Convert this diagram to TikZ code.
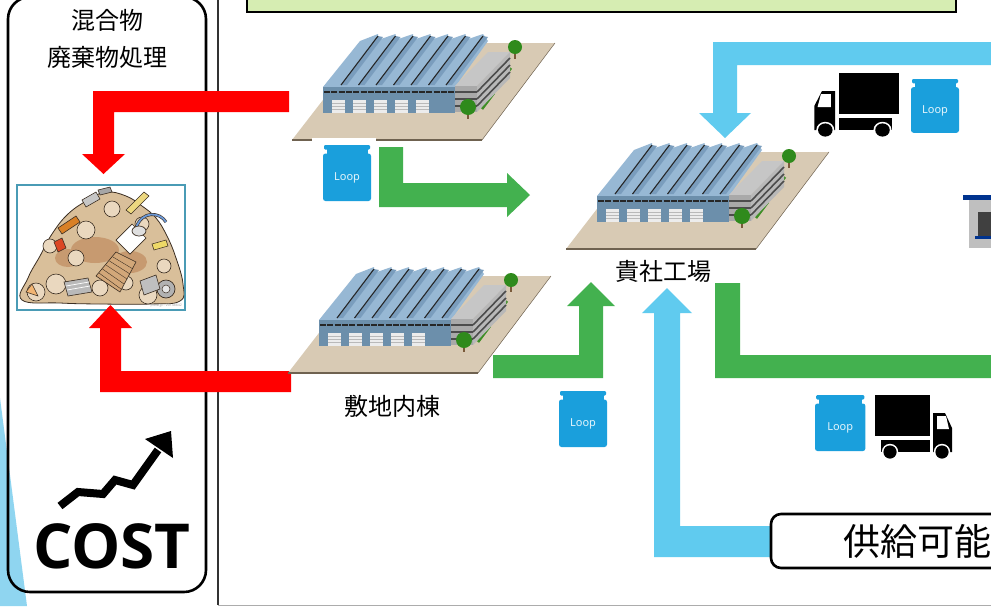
\documentclass[tikz,border=0pt]{standalone}
\usepackage{fontspec}
\newfontfamily\jpfont{Noto Sans CJK JP}
\newfontfamily\costfont{Open Sans}
\newfontfamily\loopfont{Noto Sans}

\definecolor{arrowred}{HTML}{FF0000}
\definecolor{arrowgreen}{HTML}{43B14F}
\definecolor{arrowblue}{HTML}{60CBEF}
\definecolor{loopblue}{HTML}{1A9FDC}
\definecolor{platetan}{HTML}{D8CAB4}
\definecolor{plateedge}{HTML}{6F6250}
\definecolor{wallblue}{HTML}{6C8FAB}
\definecolor{roofblue}{HTML}{97B8D4}
\definecolor{roofdark}{HTML}{7A9DBD}
\definecolor{doorwhite}{HTML}{ECECEC}
\definecolor{officetop}{HTML}{C6C6C6}
\definecolor{officefront}{HTML}{A9A9A9}
\definecolor{officeside}{HTML}{B8B8B8}
\definecolor{treegreen}{HTML}{2F8A1C}
\definecolor{lawngreen}{HTML}{3E8E25}
\definecolor{trunkbrown}{HTML}{7A5A3A}
\definecolor{topbox}{HTML}{D6EDB2}
\definecolor{skyedge}{HTML}{8FD5F0}
\definecolor{photoframe}{HTML}{4A9BB5}
\definecolor{pile}{HTML}{D9BF9A}
\definecolor{piledark}{HTML}{C79A70}
\definecolor{pilelight}{HTML}{EAD8BF}
\definecolor{ink}{HTML}{3B2E22}

\tikzset{
  jplabel/.style={font=\jpfont\fontsize{24}{28}\selectfont, inner sep=0pt},
  looplabel/.style={font=\loopfont\bfseries\fontsize{11}{12}\selectfont, text=white!88!loopblue, inner sep=0pt},
  factory/.pic={
    % ground plate
    \fill[platetan] (0,0) -- (190,0) -- (263,-97) -- (75,-97) -- cycle;
    \draw[plateedge, line width=2pt] (0,0) -- (190,0);
    \draw[plateedge, line width=0.5pt] (190,0) -- (263,-97);
    % lawn strips
    \draw[lawngreen, line width=2.6pt] (190,-31) -- (202,-47);
    \draw[lawngreen, line width=2.6pt] (207,-56) -- (219,-72);
    % saw-tooth roof
    \fill[roofblue] (31,-53) -- (68,-99) -- (86,-106) -- (86,-100) -- (103.5,-106) -- (103.5,-100)
      -- (121,-106) -- (121,-100) -- (138.5,-106) -- (138.5,-100) -- (156,-106) -- (156,-100)
      -- (173.5,-106) -- (173.5,-100) -- (191,-106) -- (196,-99) -- (163,-53) -- cycle;
    \foreach \i in {0,...,6}{
      \fill[roofdark] ({49+17.5*\i},-55) -- ({86+17.5*\i},-104) -- ({91+17.5*\i},-103) -- ({55+17.5*\i},-55) -- cycle;
      \draw[black!85, line width=1.1pt] ({49+17.5*\i},-55) -- ({86+17.5*\i},-104);
    }
    % front wall
    \fill[wallblue] (31,-53) rectangle (163,-27);
    \draw[black!85, line width=2.2pt, dash pattern=on 6pt off 1.3pt] (32,-48) -- (162,-48);
    \foreach \x in {40,61,82,102.5,124}{
      \fill[doorwhite] (\x,-40) rectangle ++(13,12.5);
      \foreach \s in {-37,-34,-31}{\draw[gray!55, line width=0.4pt] (\x,\s) -- ++(13,0);}
    }
    % office block
    \fill[officetop] (163,-54) -- (196,-88) -- (218,-88) -- (185,-54) -- cycle;
    \fill[officefront] (163,-54) rectangle (185,-28);
    \fill[officeside] (185,-54) -- (218,-88) -- (218,-62) -- (185,-28) -- cycle;
    \foreach \s in {-48,-41,-34}{
      \draw[black!70, line width=1.6pt] (163,\s) -- (185,\s);
      \draw[black!70, line width=1.6pt] (185,\s) -- (218,{\s-34});
    }
    % trees
    \draw[trunkbrown, line width=1.2pt] (223,-92) -- (223,-81);
    \fill[treegreen] (223,-93) circle (7);
    \draw[trunkbrown, line width=1.2pt] (176,-32) -- (176,-21);
    \fill[treegreen] (176,-33) circle (8);
  },
  loopbag/.pic={
    \fill[loopblue, rounded corners=1.2pt] (1,0) rectangle (47,4.5);
    \fill[loopblue] (3.5,4) rectangle (44.5,9);
    \fill[loopblue, rounded corners=2.5pt] (0,8.5) rectangle (48,56);
    \node[looplabel] (-label) at (24,33) {Loop};
  },
  truck/.pic={
    \fill[black] (0,0) rectangle (55,41);
    \fill[black] (6,45) rectangle (55,57);
    \fill[black] (58,18) -- (70,18) -- (77,33) -- (77,57) -- (58,57) -- cycle;
    \fill[white] (62,21) -- (71,21) -- (74,34) -- (62,34) -- cycle;
    \foreach \cx in {15,67}{
      \fill[white] (\cx,57) circle (8.2);
      \fill[black] (\cx,57) circle (6.6);
    }
  }
}

\begin{document}
\begin{tikzpicture}[x=1pt,y=-1pt]
\useasboundingbox (0,0) rectangle (991,606);
\clip (0,0) rectangle (991,606);
\fill[white] (0,0) rectangle (991,606);

% sky-blue wedge at the left edge
\fill[skyedge] (0,398) -- (27,606) -- (0,606) -- cycle;

% left panel
\draw[black, line width=2.6pt, rounded corners=22pt] (8,-3) rectangle (206,592);
\node[jplabel] (mixlabel) at (107,20) {混合物};
\node[jplabel] (wastelabel) at (107,57) {廃棄物処理};

% main frame
\draw[black!80, line width=1.2pt] (218,-2) -- (218,605);
\draw[gray!65, line width=1pt] (218,605) -- (995,605);

% title box at the top
\draw[black, line width=2.6pt, fill=topbox] (247,-10) rectangle (956,12);

% waste pile picture
\draw[photoframe, line width=1.2pt, fill=white] (17,185) rectangle (185,310);
\begin{scope}
\clip (18,186) rectangle (184,309);
\filldraw[fill=pile, draw=ink, line width=0.8pt] plot[smooth cycle, tension=0.7] coordinates
  {(22,300) (28,278) (40,256) (52,234) (68,214) (88,200) (106,192) (126,196) (142,206)
   (156,218) (167,236) (176,258) (183,284) (180,301) (150,304) (100,304) (60,303)};
\fill[piledark] (95,250) ellipse (24 and 13);
\fill[piledark] (130,262) ellipse (17 and 11);
\fill[piledark] (68,258) ellipse (13 and 9);
\foreach \px/\py/\pr in {36/292/9, 56/284/10, 86/230/9, 112/209/8, 76/258/8, 148/295/9, 164/266/7, 50/246/7, 142/224/7, 100/288/8, 126/283/7}{
  \filldraw[fill=pilelight, draw=ink, line width=0.6pt] (\px,\py) circle (\pr);
}
% scraps
\filldraw[fill=gray!45, draw=ink, line width=0.6pt] (82,200) -- (96,192) -- (100,199) -- (86,207) -- cycle;
\filldraw[fill=gray!70, draw=ink, line width=0.6pt] (98,190) -- (110,187) -- (112,192) -- (100,195) -- cycle;
\filldraw[fill=brown!60!orange, draw=ink, line width=0.6pt] (58,228) -- (76,216) -- (80,222) -- (62,234) -- cycle;
\filldraw[fill=red!45!brown, draw=ink, line width=0.6pt] (54,242) -- (62,238) -- (66,248) -- (58,252) -- cycle;
\filldraw[fill=yellow!50!brown!60, draw=ink, line width=0.6pt] (126,210) -- (144,192) -- (149,196) -- (131,214) -- cycle;
\draw[ink, line width=3pt] (136,228) .. controls (142,210) and (160,212) .. (166,222);
\draw[cyan!50!blue!60, line width=1.8pt] (136,228) .. controls (142,210) and (160,212) .. (166,222);
\filldraw[fill=white, draw=ink, line width=0.7pt] (116,240) -- (132,224) -- (146,238) -- (130,254) -- cycle;
\filldraw[fill=gray!25, draw=ink, line width=0.7pt] (139,231) ellipse (7 and 5);
\filldraw[fill=brown!55!pilelight, draw=ink, line width=0.6pt] (96,276) -- (116,252) -- (136,262) -- (120,292) -- cycle;
\foreach \k in {0,...,4}{\draw[ink, line width=0.4pt] ({99+3.5*\k},{273-4*\k}) -- ({121+3*\k},{289-5*\k});}
\filldraw[fill=gray!55, draw=ink, line width=0.6pt] (64,282) -- (88,278) -- (92,292) -- (68,296) -- cycle;
\draw[white, line width=0.7pt] (66,286) -- (89,282) (67,290) -- (90,286);
\filldraw[fill=gray!60, draw=ink, line width=0.7pt] (166,289) circle (9);
\filldraw[fill=gray!20, draw=ink, line width=0.5pt] (166,289) circle (4);
\filldraw[fill=gray!50, draw=ink, line width=0.6pt] (140,281) -- (156,275) -- (160,289) -- (144,295) -- cycle;
\filldraw[fill=yellow!60!brown!70, draw=ink, line width=0.5pt] (152,244) -- (166,240) -- (168,246) -- (154,250) -- cycle;
\filldraw[fill=orange!40!pilelight, draw=ink, line width=0.5pt] (26,292) -- (32,284) -- (38,296) -- cycle;
\end{scope}
\node[font=\loopfont\fontsize{3.5}{4}\selectfont, text=gray!70, anchor=east, inner sep=0pt] (pixta) at (182,306) {pixta.jp - 20148842};

% red arrows into the waste pile
\fill[arrowred] (289,91) -- (93,91) -- (93,154) -- (82,154) -- (103.5,174) -- (125,154) -- (114,154) -- (114,112) -- (289,112) -- cycle;
\fill[arrowred] (291,392) -- (100,392) -- (100,328) -- (89,328) -- (110.5,305) -- (132,328) -- (121,328) -- (121,371) -- (291,371) -- cycle;

% rising cost arrow
\draw[black, line width=8pt, line join=miter] (60,506) -- (78,492) -- (103,494) -- (115,480) -- (133,485) -- (158,450);
\fill[black] (145,439) -- (171,431) -- (173,458) -- cycle;
\node[font=\costfont\bfseries\fontsize{62}{64}\selectfont, anchor=base, inner sep=0pt] (cost) at (112,568) {COST};

% factories
\pic (upper) at (292,140) {factory};
\pic (main) at (566,249) {factory};
\pic (annex) at (288,373) {factory};
\node[jplabel] (mainlabel) at (663,271) {貴社工場};
\node[jplabel] (annexlabel) at (392,406) {敷地内棟};

% green flows
\fill[arrowgreen] (379,147) -- (403,147) -- (403,183) -- (507,183) -- (507,173) -- (530,195) -- (507,217) -- (507,207) -- (379,207) -- cycle;
\fill[arrowgreen] (493,355) -- (579,355) -- (579,306) -- (567,306) -- (591,282) -- (615,306) -- (603,306) -- (603,378) -- (493,378) -- cycle;
\fill[arrowgreen] (715,283) -- (740,283) -- (740,355) -- (995,355) -- (995,378) -- (715,378) -- cycle;

% blue flows
\fill[arrowblue] (995,42) -- (713,42) -- (713,113) -- (699,113) -- (725,138) -- (751,113) -- (737,113) -- (737,65) -- (995,65) -- cycle;
\fill[arrowblue] (771,557) -- (654,557) -- (654,313) -- (642,313) -- (667,288) -- (692,313) -- (680,313) -- (680,526) -- (771,526) -- cycle;

% supply box
\draw[black, line width=2.6pt, rounded corners=10pt, fill=white] (771,514) rectangle (1010,568);
\node[font=\jpfont\fontsize{37}{40}\selectfont, anchor=west, inner sep=0pt] (supply) at (843,541) {供給可能};

% Loop containers
\fill[white] (312,138) rectangle (376,146);
\pic (bagA) at (323,145) {loopbag};
\pic[yscale=0.96] (bagB) at (911,79) {loopbag};
\pic (bagC) at (559,391) {loopbag};
\pic[xscale=1.05] (bagD) at (815,395) {loopbag};

% trucks
\pic[xscale=-1.1] (truckTop) at (899,73) {truck};
\pic (truckLow) at (875,395) {truck};

% building at the right edge
\fill[gray!50] (969,200) rectangle (995,248);
\fill[black!75] (978,212) rectangle (995,237);
\fill[blue!45!black!80!cyan] (963,195) rectangle (995,200);
\fill[blue!45!black!80!cyan] (975,236) rectangle (995,239);
\end{tikzpicture}
\end{document}
